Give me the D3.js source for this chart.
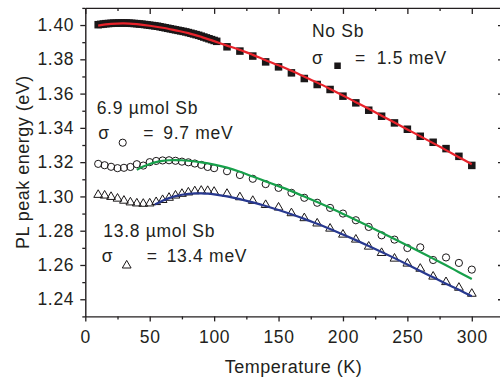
<!DOCTYPE html>
<html>
<head>
<meta charset="utf-8">
<script src="https://cdn.jsdelivr.net/npm/d3@7"></script>
<style>
  body { margin: 0; background: #fff; }
  svg { display: block; }
  text { font-family: "Liberation Sans", Arial, Helvetica, sans-serif; fill: #231f20; }
</style>
</head>
<body>
<svg id="chart" width="500" height="383"></svg>
<script>
// Axis ticks
const xTicks = [0, 50, 100, 150, 200, 250, 300];
const xMinor = [25, 75, 125, 175, 225, 275, 325];
const yTicks = [1.24, 1.26, 1.28, 1.30, 1.32, 1.34, 1.36, 1.38, 1.40];
const yMinor = [1.23, 1.25, 1.27, 1.29, 1.31, 1.33, 1.35, 1.37, 1.39, 1.41];
const yTickLabels = ["1.24", "1.26", "1.28", "1.30", "1.32", "1.34", "1.36", "1.38", "1.40"];

// No Sb: measured PL peak energy (eV)
const noSbT = [10,12,14,16,18,20,22,24,26,28,30,32,34,36,38,40,42,44,46,48,50,52,54,56,58,60,62,64,66,68,70,72,74,76,78,80,82,84,86,88,90,92,94,96,98,100,102,
  110,120,130,140,150,160,170,180,190,200,210,220,230,240,250,260,270,280,290,300];
const noSbE = [1.4002,1.4004,1.4006,1.4008,1.4009,1.4010,1.4011,1.4011,1.4012,1.4012,1.4012,1.4012,1.4011,1.4010,1.4009,1.4008,1.4006,1.4005,1.4003,1.4001,
  1.3999,1.3997,1.3995,1.3993,1.3990,1.3987,1.3984,1.3981,1.3978,1.3975,1.3972,1.3969,1.3966,1.3963,1.3960,1.3956,1.3952,1.3948,1.3944,1.3940,
  1.3935,1.3930,1.3925,1.3920,1.3915,1.3910,1.3905,
  1.3873,1.3848,1.3819,1.3785,1.3756,1.3721,1.3688,1.3653,1.3624,1.3585,1.3546,1.3503,1.3468,1.3429,1.3392,1.3351,1.3316,1.3279,1.3234,1.3181];
// No Sb: fit
const noSbFitT = [10,20,30,40,50,60,70,80,90,100,110,120,130,140,150,160,170,180,190,200,210,220,230,240,250,260,270,280,290,300];
const noSbFitE = [1.3997,1.4007,1.4010,1.4005,1.3996,1.3984,1.3969,1.3953,1.3931,1.3906,1.3880,1.3855,1.3826,1.3795,1.3765,1.3733,1.3699,1.3664,1.3627,
  1.3589,1.3550,1.3511,1.3471,1.3431,1.3391,1.3351,1.3311,1.3270,1.3229,1.3188];

// 6.9 µmol Sb: measured
const sb69T = [10,15,20,25,30,35,40,45,50,55,60,65,70,75,80,85,90,95,100,
  110,120,130,140,150,160,170,180,190,200,210,220,230,240,250,260,270,280,290,300];
const sb69E = [1.3190,1.3182,1.3173,1.3165,1.3167,1.3172,1.3188,1.3180,1.3200,1.3207,1.3210,1.3211,1.3208,1.3203,1.3199,1.3192,1.3184,1.3172,1.3165,
  1.3147,1.3125,1.3103,1.3072,1.3050,1.3021,1.2992,1.2963,1.2933,1.2900,1.2861,1.2822,1.2773,1.2748,1.2699,1.2703,1.2629,1.2644,1.2612,1.2573];
// 6.9 µmol Sb: fit
const sb69FitT = [40,45,50,55,60,65,70,75,80,90,100,110,120,130,140,150,160,170,180,190,200,210,220,230,240,250,260,270,280,290,300];
const sb69FitE = [1.3155,1.3174,1.3189,1.3200,1.3207,1.3211,1.3212,1.3211,1.3208,1.3199,1.3186,1.3168,1.3144,1.3116,1.3088,1.3060,1.3031,1.3000,1.2968,
  1.2934,1.2898,1.2862,1.2826,1.2789,1.2752,1.2714,1.2676,1.2637,1.2598,1.2558,1.2518];

// 13.8 µmol Sb: measured
const sb138T = [10,15,20,25,30,35,40,45,50,55,60,65,70,75,80,85,90,95,100,
  110,120,130,140,150,160,170,180,190,200,210,220,230,240,250,260,270,280,290,300];
const sb138E = [1.3012,1.3008,1.3000,1.2990,1.2978,1.2968,1.2962,1.2960,1.2962,1.2970,1.2982,1.2995,1.3008,1.3018,1.3026,1.3033,1.3036,1.3035,1.3030,
  1.3018,1.2998,1.2977,1.2953,1.2938,1.2905,1.2876,1.2845,1.2815,1.2780,1.2751,1.2710,1.2673,1.2640,1.2611,1.2581,1.2535,1.2503,1.2470,1.2435];
// 13.8 µmol Sb: fit
const sb138FitT = [54,60,65,70,75,80,85,90,95,100,110,120,130,140,150,160,170,180,190,200,210,220,230,240,250,260,270,280,290,300];
const sb138FitE = [1.2953,1.2975,1.2990,1.3002,1.3010,1.3015,1.3018,1.3018,1.3016,1.3012,1.3000,1.2984,1.2965,1.2944,1.2921,1.2896,1.2869,1.2840,1.2810,
  1.2778,1.2745,1.2711,1.2676,1.2640,1.2603,1.2565,1.2528,1.2491,1.2455,1.2418];

const svg = d3.select("#chart");
const x = d3.scaleLinear().domain([0, 325]).range([85.3, 504]);
const y = d3.scaleLinear().domain([1.23, 1.41]).range([316.4, 7.9]);
const x0 = x.range()[0], x1 = x.range()[1], y0 = y.range()[0], y1 = y.range()[1];

function styleAxis(g) {
  g.selectAll("path.domain").attr("stroke", "#231f20").attr("stroke-width", 1.4);
  g.selectAll(".tick line").attr("stroke", "#231f20").attr("stroke-width", 1.3);
}

// Bottom axis with labels, ticks outward
svg.append("g").attr("transform", `translate(0,${y0})`)
  .call(d3.axisBottom(x).tickValues(xTicks).tickSize(5).tickSizeOuter(0).tickPadding(9.5).tickFormat(d3.format("d")))
  .call(styleAxis)
  .call(g => g.selectAll("text").attr("font-size", 17.5).attr("letter-spacing", 0.7).attr("fill", "#231f20")
    .attr("font-family", "'Liberation Sans', Arial, sans-serif"));
svg.append("g").attr("transform", `translate(0,${y0})`)
  .call(d3.axisBottom(x).tickValues(xMinor).tickSize(3).tickSizeOuter(0).tickFormat(""))
  .call(styleAxis).call(g => g.select("path.domain").remove());

// Left axis with labels, ticks outward
svg.append("g").attr("transform", `translate(${x0},0)`)
  .call(d3.axisLeft(y).tickValues(yTicks).tickSize(5).tickSizeOuter(0).tickPadding(6)
    .tickFormat((d, i) => yTickLabels[i]))
  .call(styleAxis)
  .call(g => g.selectAll("text").attr("font-size", 17.5).attr("letter-spacing", 0.7).attr("fill", "#231f20")
    .attr("font-family", "'Liberation Sans', Arial, sans-serif"));
svg.append("g").attr("transform", `translate(${x0},0)`)
  .call(d3.axisLeft(y).tickValues(yMinor).tickSize(3).tickSizeOuter(0).tickFormat(""))
  .call(styleAxis).call(g => g.select("path.domain").remove());

// Top axis, ticks inward
svg.append("g").attr("transform", `translate(0,${y1})`)
  .call(d3.axisTop(x).tickValues(xTicks).tickSize(-6).tickSizeOuter(0).tickFormat(""))
  .call(styleAxis);
svg.append("g").attr("transform", `translate(0,${y1})`)
  .call(d3.axisTop(x).tickValues(xMinor).tickSize(-3).tickSizeOuter(0).tickFormat(""))
  .call(styleAxis).call(g => g.select("path.domain").remove());

// Right axis, ticks inward
svg.append("g").attr("transform", `translate(${x1},0)`)
  .call(d3.axisRight(y).tickValues(yTicks).tickSize(-6).tickSizeOuter(0).tickFormat(""))
  .call(styleAxis);
svg.append("g").attr("transform", `translate(${x1},0)`)
  .call(d3.axisRight(y).tickValues(yMinor).tickSize(-3).tickSizeOuter(0).tickFormat(""))
  .call(styleAxis).call(g => g.select("path.domain").remove());

// Axis titles
svg.append("text").attr("x", 293.5).attr("y", 373).attr("text-anchor", "middle")
  .attr("font-size", 18).attr("letter-spacing", 0.5).text("Temperature (K)");
svg.append("text").attr("transform", `translate(29,${(y0 + y1) / 2}) rotate(-90)`).attr("text-anchor", "middle")
  .attr("font-size", 18).attr("letter-spacing", 0.5).text("PL peak energy (eV)");

const zip = (ts, es) => ts.map((t, i) => ({ t, e: es[i] }));
const triPath = "M0,-4.6L4.4,3L-4.4,3Z";

// Markers
const plot = svg.append("g");
plot.selectAll("rect.sq").data(zip(noSbT, noSbE)).join("rect").attr("class", "sq")
  .attr("x", d => x(d.t) - 3.75).attr("y", d => y(d.e) - 3.75).attr("width", 7.5).attr("height", 7.5)
  .attr("fill", "#1a1718");
plot.selectAll("circle.c").data(zip(sb69T, sb69E)).join("circle").attr("class", "c")
  .attr("cx", d => x(d.t)).attr("cy", d => y(d.e)).attr("r", 3.6)
  .attr("fill", "none").attr("stroke", "#1a1718").attr("stroke-width", 1);
plot.selectAll("path.tri").data(zip(sb138T, sb138E)).join("path").attr("class", "tri")
  .attr("transform", d => `translate(${x(d.t)},${y(d.e)})`).attr("d", triPath)
  .attr("fill", "none").attr("stroke", "#1a1718").attr("stroke-width", 1);

// Fit curves
const line = d3.line().x(d => x(d.t)).y(d => y(d.e)).curve(d3.curveCatmullRom);
[[noSbFitT, noSbFitE, "#e8232b"], [sb69FitT, sb69FitE, "#17a04b"], [sb138FitT, sb138FitE, "#27388f"]]
  .forEach(([ts, es, c]) => {
    plot.append("path").datum(zip(ts, es)).attr("d", line)
      .attr("fill", "none").attr("stroke", c).attr("stroke-width", 2.2);
  });

// Annotations
const ann = svg.append("g").attr("font-size", 17.5).attr("letter-spacing", 0.7);
function label(tx, ty, str) { ann.append("text").attr("x", tx).attr("y", ty).text(str); }

label(312, 36.5, "No Sb");
label(312, 63.5, "σ");
ann.append("rect").attr("x", 334.3).attr("y", 62.5).attr("width", 6.5).attr("height", 6.5).attr("fill", "#1a1718");
label(355, 63.5, "=");
label(376.7, 63.5, "1.5 meV");

label(96.7, 113.5, "6.9 µmol Sb");
label(98.3, 139.3, "σ");
ann.append("circle").attr("cx", 122.7).attr("cy", 142.7).attr("r", 3.6)
  .attr("fill", "none").attr("stroke", "#1a1718").attr("stroke-width", 1);
label(143.3, 139.3, "=");
label(163.3, 139.3, "9.7 meV");

label(103.3, 236.7, "13.8 µmol Sb");
label(101.7, 261.7, "σ");
ann.append("path").attr("transform", "translate(126.7,265)").attr("d", triPath)
  .attr("fill", "none").attr("stroke", "#1a1718").attr("stroke-width", 1);
label(146.7, 261.7, "=");
label(166.7, 261.7, "13.4 meV");
</script>
</body>
</html>
